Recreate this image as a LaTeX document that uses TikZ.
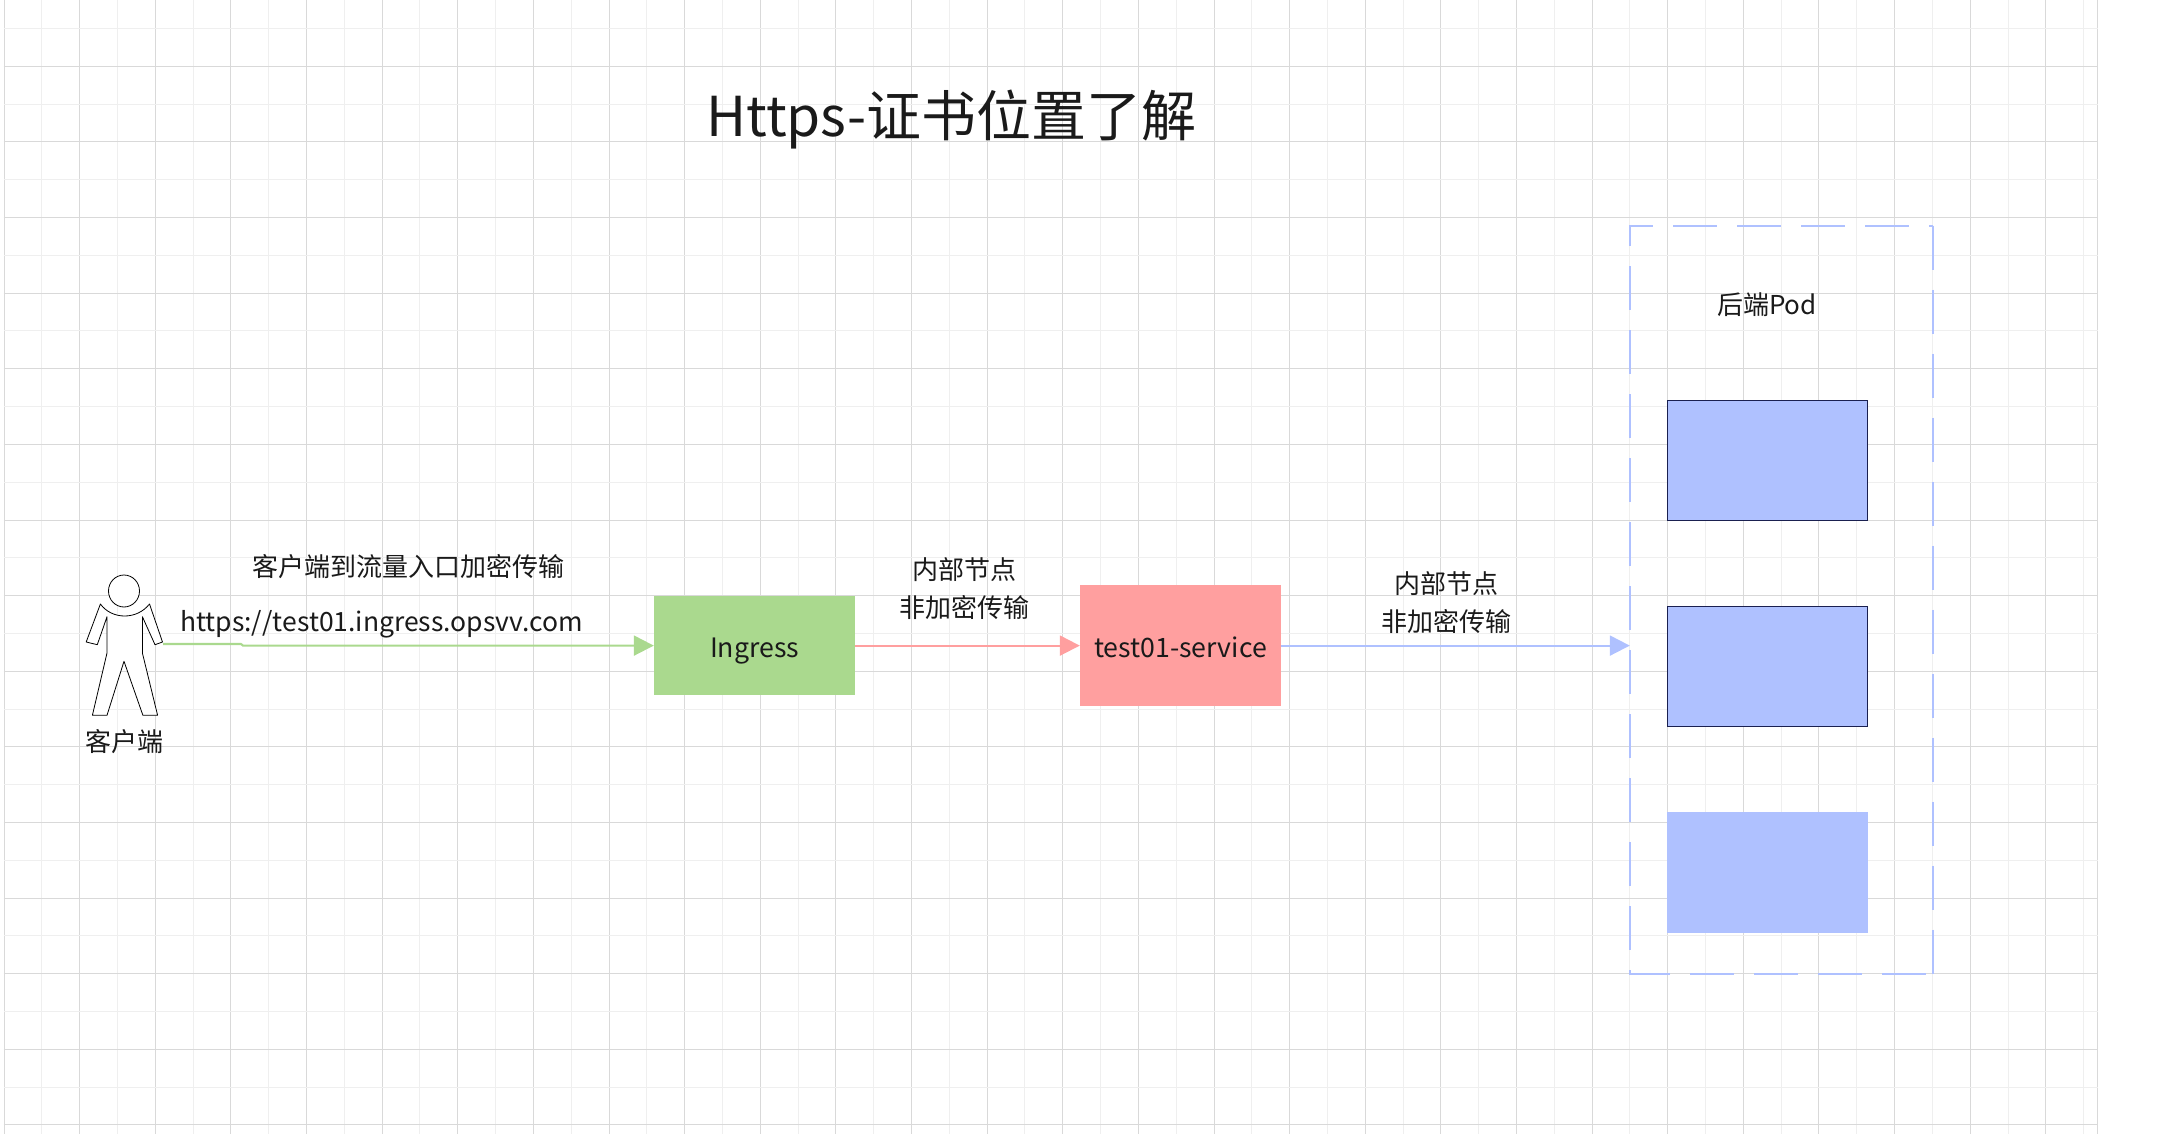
\documentclass[tikz,border=0pt]{standalone}
\usepackage{fontspec}
\setmainfont{Noto Sans CJK SC}
\usetikzlibrary{arrows.meta,positioning}
\definecolor{gridmajor}{HTML}{D9D9D9}
\definecolor{gridminor}{HTML}{EFEFEF}
\definecolor{greenline}{HTML}{AAD98E}
\definecolor{redline}{HTML}{FF9F9F}
\definecolor{blueline}{HTML}{AFC1FF}
\definecolor{podedge}{HTML}{1A2050}
\definecolor{inktext}{HTML}{1A1A1A}
\tikzset{
  label26/.style={text=inktext,font=\fontsize{26}{38}\selectfont,align=center,inner sep=0pt},
  boxnode/.style={minimum width=201pt,inner sep=0pt,text=inktext,text height=24.4pt,text depth=0pt,font=\fontsize{26.7}{30}\selectfont},
  podbox/.style={minimum width=200pt,minimum height=120pt,inner sep=0pt,fill=blueline},
  arrowline/.style={line width=2.1pt,-{Triangle[length=20pt,width=20pt]}},
  dashline/.style={blueline,line width=2pt,dash pattern=on 44pt off 20pt},
  gridline/.style={line width=1.5pt},
}
\begin{document}
\begin{tikzpicture}[x=1pt,y=-1pt]
\useasboundingbox (0,0) rectangle (2162,1134);
% grid
\foreach \k in {0,...,27} {
  \pgfmathsetmacro{\xa}{round(3.6+75.62*\k)+.5}
  \pgfmathsetmacro{\xb}{round(41.4+75.62*\k)+.5}
  \draw[gridmajor,gridline] (\xa,0)--(\xa,1134);
  \draw[gridminor,gridline] (\xb,0)--(\xb,1134);
}
\draw[gridmajor,gridline] (2097.5,0)--(2097.5,1134);
\foreach \k in {0,...,14} {
  \pgfmathsetmacro{\ya}{floor(66.3+75.62*\k)+.5}
  \pgfmathsetmacro{\yb}{floor(28.5+75.62*\k)+.5}
  \draw[gridmajor,gridline] (3.5,\ya)--(2097.5,\ya);
  \draw[gridminor,gridline] (3.5,\yb)--(2097.5,\yb);
}
\node[text=inktext,font=\fontsize{55}{60}\selectfont,inner sep=0pt] (title) at (951.4,120) {Https-证书位置了解};
% actor
\draw[line width=.8pt,fill=white] (124,591) ellipse[x radius=15.5pt,y radius=16pt];
\draw[line width=.8pt,fill=white,line join=round] (100.4,604) .. controls (112,620) and (137,620) .. (149.5,604)--(162.5,642)--(155,644.7)--(142.4,616.7)--(142.4,653)--(157.6,715.3)--(142.9,715.3)--(124,661.3)--(107,715.3)--(92.4,715.3)--(107,653)--(107,616.7)--(97.3,644.7)--(86.2,642)--cycle;
\coordinate (clienthand) at (163,644);
\node[label26] (client) at (124,742) {客户端};
\node[label26] (entrytext) at (408,566.7) {客户端到流量入口加密传输};
\node[label26,font=\fontsize{26.5}{30}\selectfont] (urltext) at (381.5,624) {https://test01.ingress.opsvv.com};
% boxes
\node[boxnode,fill=greenline,minimum height=99.3pt] (ingress) at (754.5,645.6) {Ingress};
\node[boxnode,fill=redline,minimum height=120.7pt] (service) at (1180.5,645.6) {test01-service};
\node[label26] (innertext1) at (964,588.5) {内部节点\\非加密传输};
\node[label26] (innertext2) at (1446,602.6) {内部节点\\非加密传输};
\node[minimum width=302.3pt,minimum height=747.6pt,inner sep=0pt] (podgroup) at (1781.15,599.5) {};
\draw[dashline] (podgroup.north east)--(podgroup.south east);
\draw[dashline] ([xshift=-6.3pt]podgroup.south east)--(podgroup.south west)--(podgroup.north west)--(podgroup.north east);
\node[label26] (podtext) at (1767,305) {后端Pod};
\node[podbox,draw=podedge,line width=1pt] (pod1) at (1767.5,460.3) {};
\node[podbox,draw=podedge,line width=1pt] (pod2) at (1767.5,666.3) {};
\node[podbox,minimum width=201pt,minimum height=121pt] (pod3) at (1767.5,872.5) {};
% connectors
\draw[greenline,arrowline] (clienthand)--++(78,0)--++(2,1.6)--(ingress.west);
\draw[redline,arrowline] (ingress.east)--(service.west);
\draw[blueline,arrowline] (service.east)--(podgroup.west |- service.east);
\end{tikzpicture}
\end{document}
